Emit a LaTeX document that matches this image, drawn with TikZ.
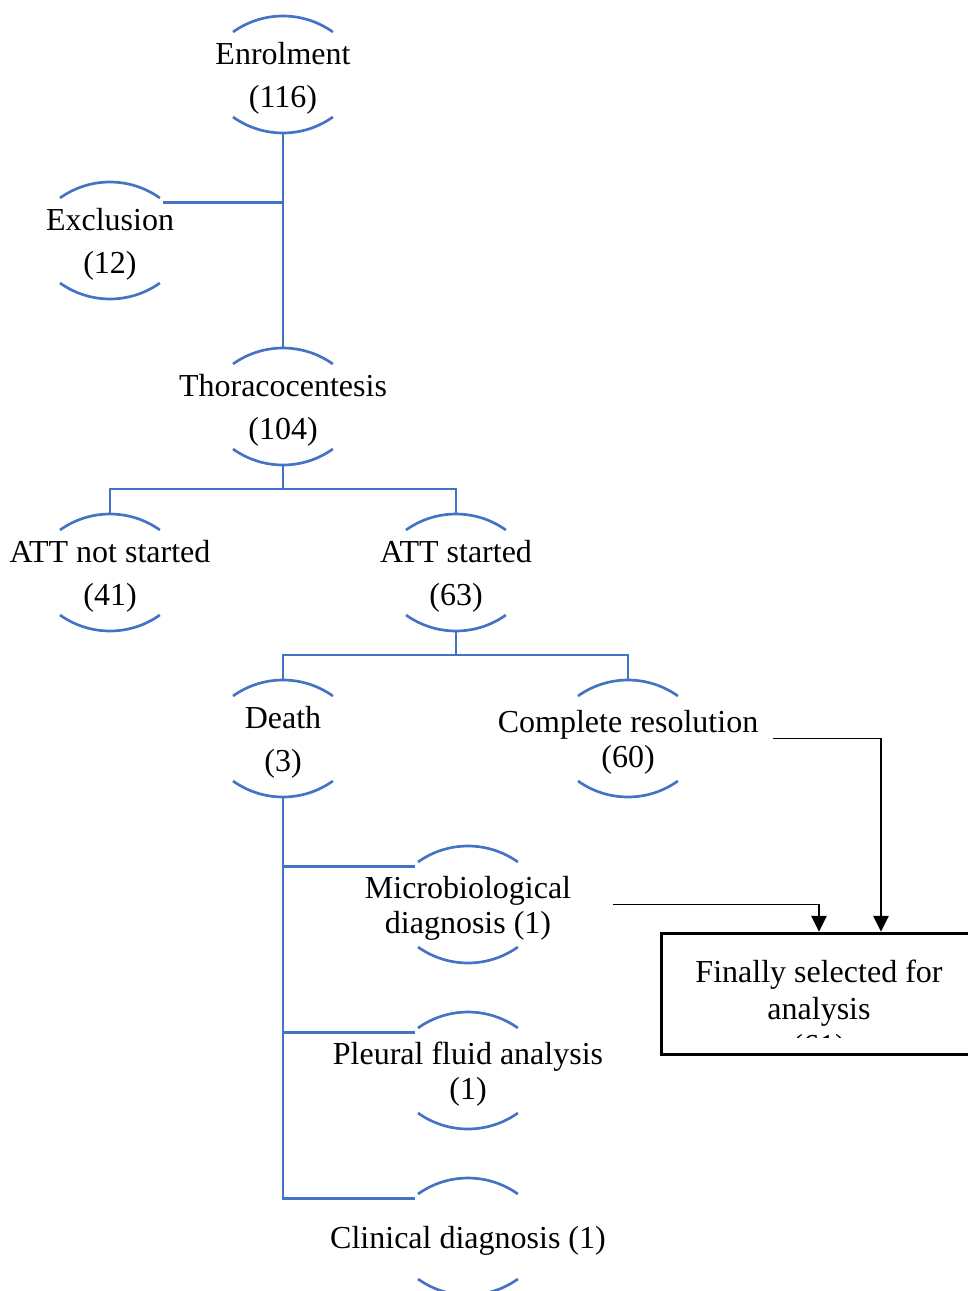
\documentclass[tikz,border=0pt]{standalone}
\usepackage{fontspec}
\setmainfont{Liberation Serif}
\usetikzlibrary{calc,arrows.meta}
\definecolor{chartblue}{RGB}{68,114,196}
\tikzset{
	brk/.style={minimum width=217.5pt, align=center, inner sep=0pt, font=\fontsize{24}{32.5}\selectfont},
	brkwrap/.style={brk, font=\fontsize{24}{26.2}\selectfont},
	arcline/.style={draw=chartblue, line width=2pt},
	link/.style={draw=chartblue, line width=2pt},
	outlink/.style={draw=black, line width=1.4pt, -{Triangle[width=11.5pt,length=12pt]}},
	finalbox/.style={draw=black, line width=2.6pt, minimum width=236.25pt, minimum height=90.75pt}
}

\begin{document}
\begin{tikzpicture}[x=0.75pt,y=-0.75pt]
	\useasboundingbox (0,0) rectangle (967,1291);
	% Place the nodes (text sits 4px below the bracket middle)
	\node[brk] (enrol) at (283,78.5) {Enrolment\\(116)};
	\node[brk] (excl) at (110,244.5) {Exclusion\\(12)};
	\node[brk] (thora) at (283,410.5) {Thoracocentesis\\(104)};
	\node[brk] (attno) at (110,576.5) {ATT not started\\(41)};
	\node[brk] (attyes) at (456,576.5) {ATT started\\(63)};
	\node[brk] (death) at (283,742.5) {Death\\(3)};
	\node[brkwrap] (resol) at (628,742.5) {Complete resolution\\(60)};
	\node[brkwrap] (micro) at (468,908.5) {Microbiological\\diagnosis (1)};
	\node[brkwrap] (pleural) at (468,1074.5) {Pleural fluid analysis\\(1)};
	\node[brk] (clinic) at (468,1240.5) {Clinical diagnosis (1)};
	% Brackets above and below each node
	\foreach \n in {enrol,excl,thora,attno,attyes,death,resol,micro,pleural,clinic}{
		\draw[arcline] ($(\n.center)+(-50,-46.5)$) arc[start angle=234.5,end angle=305.5,radius=86];
		\draw[arcline] ($(\n.center)+(-50,38.5)$) arc[start angle=125.5,end angle=54.5,radius=86];
		\coordinate (\n-top) at ($(\n.center)+(0,-62.5)$);
		\coordinate (\n-bot) at ($(\n.center)+(0,54.5)$);
		\coordinate (\n-tl) at ($(\n.center)+(-53,-42)$);
		\coordinate (\n-tr) at ($(\n.center)+(53,-42)$);
	}
	% Blue tree lines
	\draw[link] (enrol-bot) -- (thora-top);
	\draw[link] (excl-tr) -- (excl-tr -| enrol-bot);
	\draw[link] (thora-bot) -- ++(0,24) -| (attno-top);
	\draw[link] (thora-bot) -- ++(0,24) -| (attyes-top);
	\draw[link] (attyes-bot) -- ++(0,24) -| (death-top);
	\draw[link] (attyes-bot) -- ++(0,24) -| (resol-top);
	\draw[link] (death-bot) -- (clinic-tl -| death-bot) -- (clinic-tl);
	\draw[link] (micro-tl -| death-bot) -- (micro-tl);
	\draw[link] (pleural-tl -| death-bot) -- (pleural-tl);
	% Final box
	\node[finalbox] (final) at (819,994) {};
	\begin{scope}
		\clip (600,900) rectangle (1000,1037);
		\node[align=center, inner sep=0pt, font=\fontsize{24}{27.75}\selectfont] (finaltxt) at (819,1012) {Finally selected for\\analysis\\(61)};
	\end{scope}
	\draw[outlink] ($(resol.east)+(0,-4)$) -| ($(final.north)+(62,0)$);
	\draw[outlink] ($(micro.east)+(0,-4)$) -| (final.north);
\end{tikzpicture}
\end{document}
